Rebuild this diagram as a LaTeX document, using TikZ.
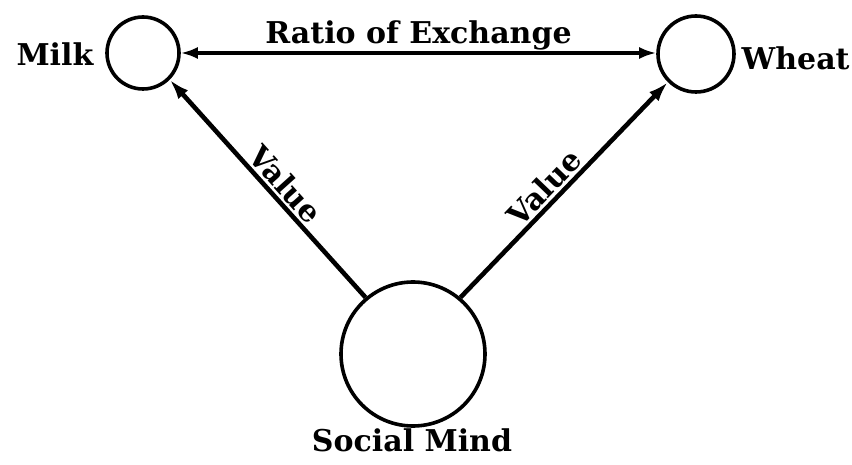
\documentclass[tikz,border=0pt]{standalone}
\usepackage{fontspec}
\setmainfont{DejaVu Serif}
\usetikzlibrary{arrows.meta}
\begin{document}
\begin{tikzpicture}[x=1pt,y=1pt,
  ring/.style={circle,draw,line width=3.6pt,inner sep=0pt},
  lbl/.style={font=\fontsize{30}{36}\selectfont\bfseries,inner sep=1.5pt},
  conn/.style={line width=4.6pt,-{Latex[length=20pt,width=13pt]}},
  both/.style={line width=3.2pt,{Latex[length=17pt,width=12pt]}-{Latex[length=17pt,width=12pt]}}]
\useasboundingbox (0,0) rectangle (852,464);
\node[ring,minimum size=72pt] (milk) at (143,411) {};
\node[ring,minimum size=76pt] (wheat) at (696,410) {};
\node[ring,minimum size=144pt] (mind) at (413,110) {};
\node[lbl,anchor=east] (milkl) at (95,410) {Milk};
\node[lbl,anchor=west] (wheatl) at (740,406) {Wheat};
\node[lbl] (mindl) at (412,24) {Social Mind};
\draw[both] (milk.east) -- (milk.east -| wheat.west) node[midway,above=0pt,lbl] (ratio) {Ratio of Exchange};
\draw[conn] (mind.130) -- (milk.-45) node[pos=0.47,sloped,above=1pt,lbl] (v1) {Value};
\draw[conn] (mind.50) -- (wheat.-135) node[pos=0.46,sloped,above=1pt,lbl] (v2) {Value};
\end{tikzpicture}
\end{document}
